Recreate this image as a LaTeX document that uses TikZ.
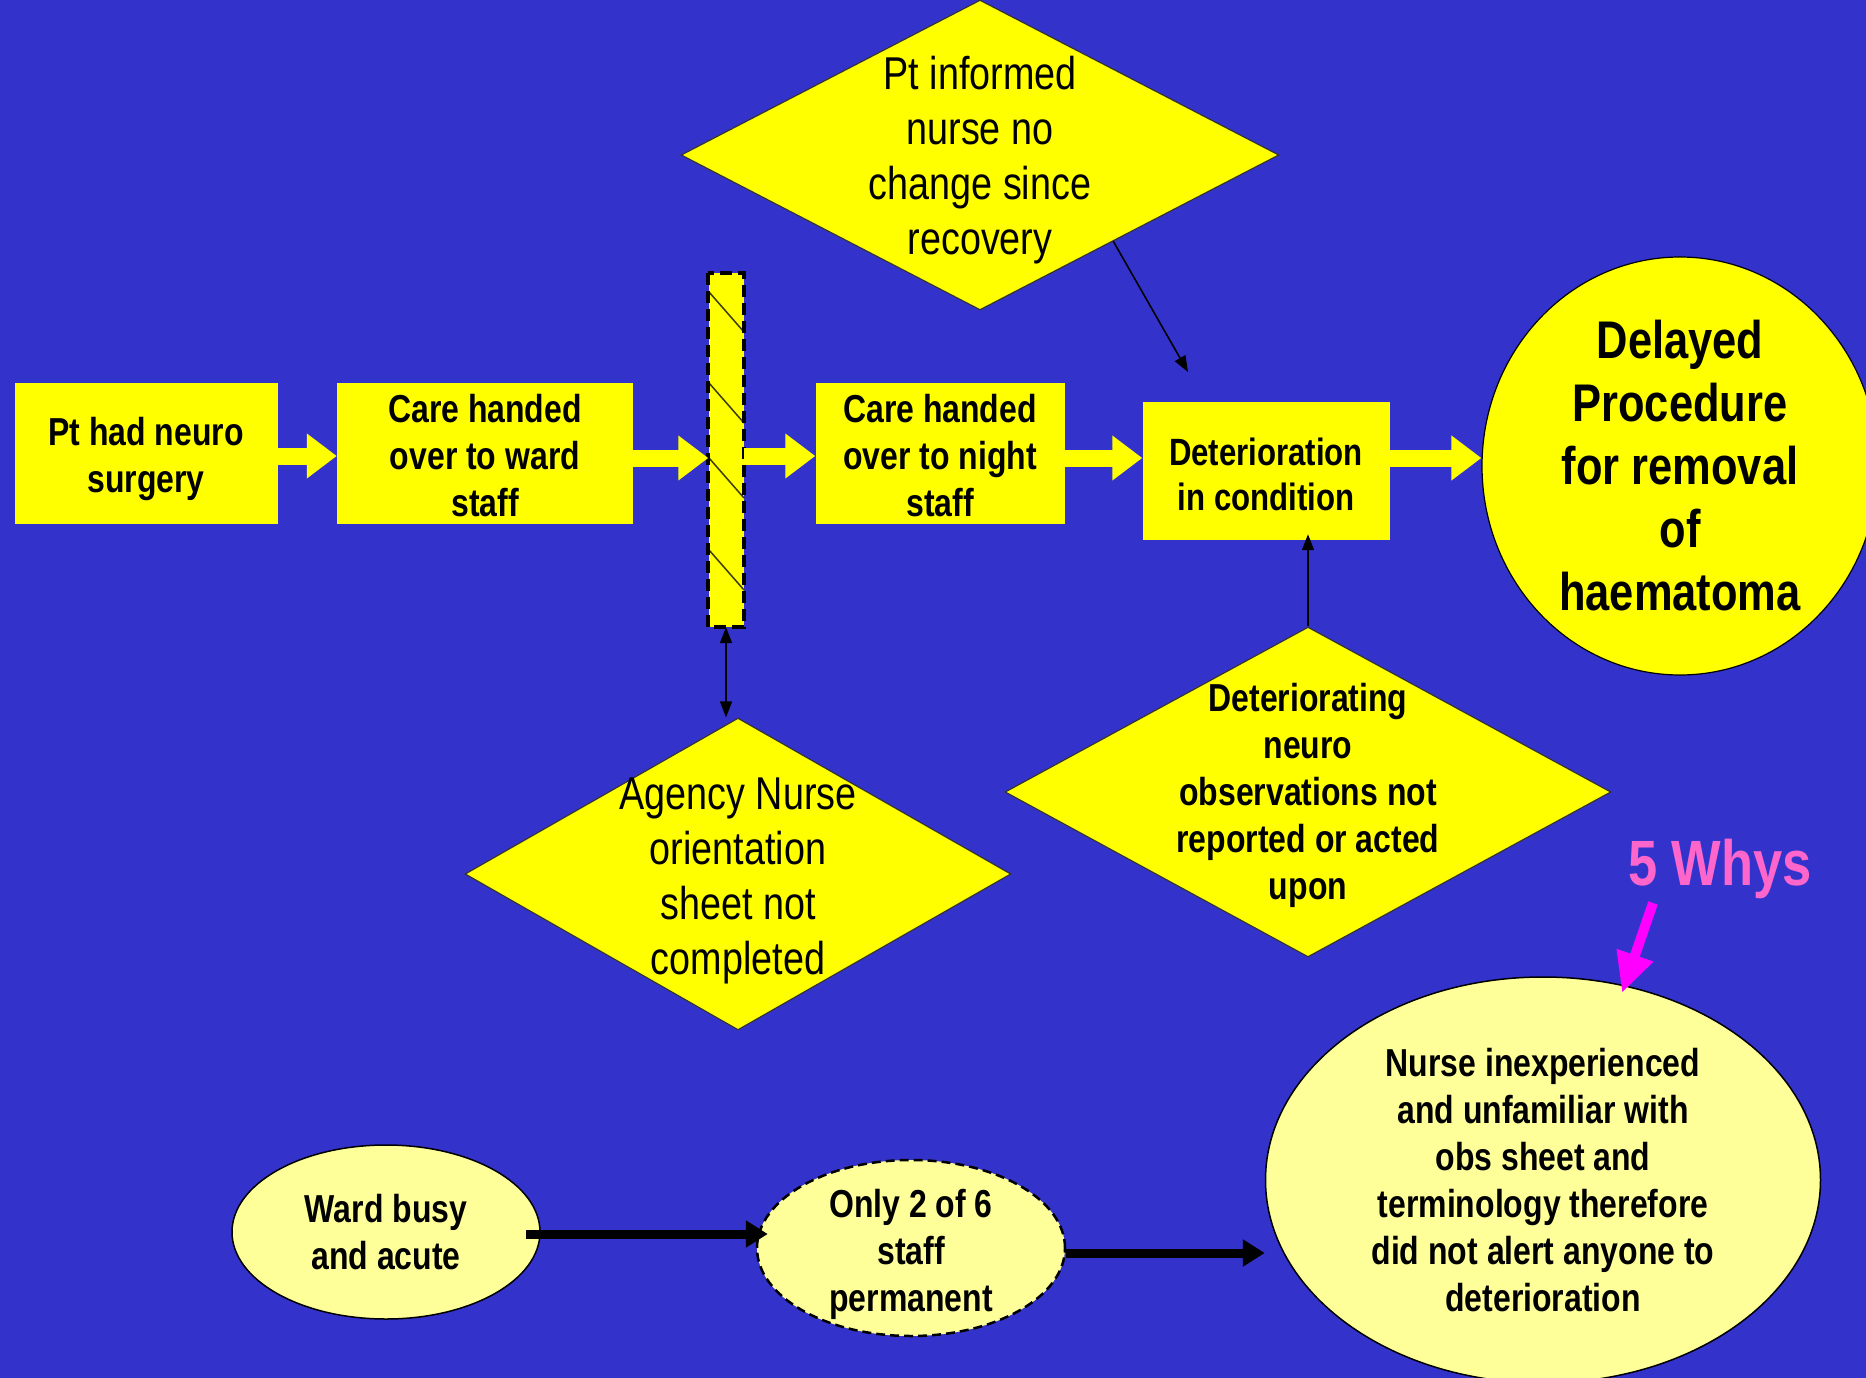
\documentclass[tikz,border=0pt]{standalone}
\usepackage{fontspec}
\setmainfont{Liberation Sans}[FakeStretch=0.82]
\usetikzlibrary{shapes.geometric,arrows.meta,calc}
\definecolor{bgblue}{RGB}{51,51,204}
\definecolor{ylw}{RGB}{255,255,0}
\definecolor{lylw}{RGB}{255,255,153}
\definecolor{pinkw}{RGB}{255,102,204}
\definecolor{magarr}{RGB}{255,0,255}
\definecolor{hatchc}{RGB}{60,60,0}
\newcommand{\fntB}{\fontsize{39}{47}\selectfont\bfseries}
\newcommand{\fntR}{\fontsize{46}{55}\selectfont}
\newcommand{\fntBig}{\fontsize{53}{63}\selectfont\bfseries}
\newcommand{\fntD}{\fontsize{38}{45}\selectfont\bfseries}
\newcommand{\fntW}{\fontsize{64}{70}\selectfont\bfseries}
\begin{document}
\begin{tikzpicture}[x=1pt,y=-1pt,
  stepbox/.style={rectangle, fill=ylw, inner sep=0pt},
  dshape/.style={diamond, fill=ylw, draw=black!80, line width=1.2pt, inner sep=0pt},
  eshape/.style={ellipse, fill=lylw, draw=black, line width=1.5pt, inner sep=0pt},
  txt/.style={align=center, inner sep=0pt},
  yarrow/.style={draw=ylw, line width=17pt, -{Triangle[width=43pt,length=30pt]}},
  karrow/.style={draw=black, line width=9pt, -{Triangle[width=26pt,length=22pt]}},
  tarrow/.style={draw=black, line width=1.6pt, -{Triangle[width=12pt,length=16pt]}},
]
\fill[bgblue] (0,0) rectangle (1866,1378);
\useasboundingbox (0,0) rectangle (1866,1378);

% main chain
\node[stepbox, minimum width=263, minimum height=141] (b1) at (146,453) {};
\node[txt, font=\fntB] (b1t) at ($(b1)+(0,6)$) {Pt had neuro\\surgery};
\node[stepbox, minimum width=296, minimum height=141] (b2) at (485,453) {};
\node[txt, font=\fntB] (b2t) at ($(b2)+(0,3)$) {Care handed\\over to ward\\staff};
\node[rectangle, fill=ylw, minimum width=35, minimum height=354, inner sep=0pt] (bar) at (726,450) {};
\foreach \yy in {292,383,458,550} \draw[hatchc, line width=1.5pt] (709,\yy) -- (744,\yy+40);
\draw[black, line width=4pt, dash pattern=on 12pt off 6pt] (bar.north west) rectangle (bar.south east);
\node[stepbox, minimum width=249, minimum height=141] (b3) at (940,453) {};
\node[txt, font=\fntB] (b3t) at ($(b3)+(0,3)$) {Care handed\\over to night\\staff};
\node[stepbox, minimum width=247, minimum height=138] (b4) at (1266,471) {};
\node[txt, font=\fntD] (b4t) at ($(b4)+(0,3)$) {Deterioration\\in condition};
\node[eshape, fill=ylw, line width=1.2pt, minimum width=396, minimum height=418] (out) at (1680,466) {};
\node[txt, font=\fntBig] (outT) at (out) {Delayed\\Procedure\\for removal\\of\\haematoma};

% diamonds
\node[dshape, minimum width=598, minimum height=310] (d1) at (980,155) {};
\node[txt, font=\fntR] (d1t) at ($(d1)+(0,5)$) {Pt informed\\nurse no\\change since\\recovery};
\node[dshape, minimum width=546, minimum height=312] (d2) at (738,874) {};
\node[txt, font=\fntR] (d2t) at ($(d2)+(0,7)$) {Agency Nurse\\orientation\\sheet not\\completed};
\node[dshape, minimum width=606, minimum height=330] (d3) at (1308,792) {};
\node[txt, font=\fntB] (d3t) at ($(d3)+(0,3)$) {Deteriorating\\neuro\\observations not\\reported or acted\\upon};

% bottom ellipses
\node[eshape, minimum width=308, minimum height=174] (e1) at (386,1232) {};
\node[txt, font=\fntB] (e1t) at (e1) {Ward busy\\and acute};
\node[eshape, dash pattern=on 9pt off 5pt, line width=2.5pt, minimum width=308, minimum height=176] (e2) at (911,1248) {};
\node[txt, font=\fntB] (e2t) at ($(e2)+(0,6)$) {Only 2 of 6\\staff\\permanent};
\node[eshape, minimum width=555, minimum height=406] (e3) at (1543,1180) {};
\node[txt, font=\fntB] (e3t) at (e3) {Nurse inexperienced\\and unfamiliar with\\obs sheet and\\terminology therefore\\did not alert anyone to\\deterioration};

% yellow block arrows
\draw[yarrow] ([yshift=-3pt]b1.east) -- ([yshift=-3pt]b2.west);
\draw[yarrow] ([yshift=-5pt]b2.east) -- (bar.west |- 0,458);
\draw[yarrow] ([yshift=-3pt]bar.east |- b3.east) -- ([yshift=-3pt]b3.west);
\draw[yarrow] ([yshift=-5pt]b3.east) -- (b4.west |- 0,458);
\draw[yarrow] (b4.east |- 0,458) -- (out.west |- 0,458);

% thin arrows
\coordinate (tipA) at (1188,372);
\draw[tarrow] ($(d1.east)!0.555!(d1.south)$) -- (tipA);
\draw[tarrow] (d3.north) -- ($(d3.north |- b4.south)+(0,-6)$);
\draw[line width=1.6pt, {Triangle[width=12pt,length=16pt]}-{Triangle[width=12pt,length=16pt]}] (bar.south) -- (bar.south |- d2.north);

% bottom thick arrows
\draw[karrow] ($(e1.east)+(-15,2)$) -- ($(e2.west)+(12,-14)$);
\path ($(e2.east)+(0,5)$) coordinate (k2s);
\draw[karrow] (k2s) -- (k2s -| e3.west);

% 5 Whys
\node[font=\fntW, text=pinkw, anchor=base west, inner sep=0pt] (why) at (1628,885) {5 Whys};
\coordinate (why5s) at (1653,903);
\coordinate (why5e) at (1622,993);
\draw[draw=magarr, line width=10pt, -{Triangle[width=36pt,length=40pt]}] (why5s) -- (why5e);
\end{tikzpicture}
\end{document}
